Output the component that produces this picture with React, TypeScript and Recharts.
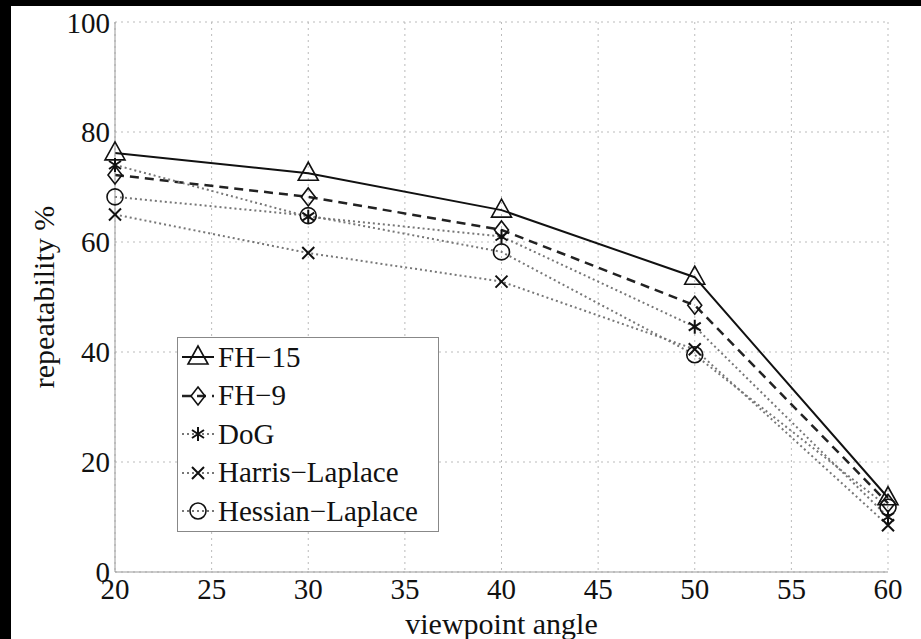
import React from 'react';
import {
  LineChart,
  Line,
  XAxis,
  YAxis,
  CartesianGrid,
  Legend
} from 'recharts';

// viewpoint angles (degrees)
const angles = [20, 30, 40, 50, 60];

// repeatability % per detector
const fh15 = [76.2, 72.5, 65.8, 53.6, 13.5];
const fh9 = [72.2, 68.2, 62.2, 48.5, 12.5];
const dog = [74.0, 64.6, 61.0, 44.6, 10.0];
const harrisLaplace = [65.0, 58.0, 52.8, 40.5, 8.5];
const hessianLaplace = [68.2, 64.8, 58.2, 39.5, 11.8];

const xTicks = [20, 25, 30, 35, 40, 45, 50, 55, 60];
const yTicks = [0, 20, 40, 60, 80, 100];

const data = angles.map((angle, i) => ({
  angle,
  fh15: fh15[i],
  fh9: fh9[i],
  dog: dog[i],
  harris: harrisLaplace[i],
  hessian: hessianLaplace[i]
}));

const FONT = "'Liberation Serif', 'DejaVu Serif', serif";

type MarkerKind = 'triangle' | 'diamond' | 'asterisk' | 'cross' | 'circle';

const Marker = ({ kind, cx, cy }: { kind: MarkerKind; cx: number; cy: number }) => {
  const s = { stroke: '#111', strokeWidth: 1.6, fill: 'none' };
  switch (kind) {
    case 'triangle':
      return (
        <polygon
          {...s}
          points={`${cx},${cy - 11} ${cx - 10},${cy + 7} ${cx + 10},${cy + 7}`}
        />
      );
    case 'diamond':
      return (
        <polygon
          {...s}
          points={`${cx},${cy - 9} ${cx + 7},${cy} ${cx},${cy + 9} ${cx - 7},${cy}`}
        />
      );
    case 'circle':
      return <circle {...s} cx={cx} cy={cy} r={8} />;
    case 'cross':
      return (
        <path
          {...s}
          strokeWidth={2}
          d={`M${cx - 6},${cy - 6}L${cx + 6},${cy + 6}M${cx - 6},${cy + 6}L${cx + 6},${cy - 6}`}
        />
      );
    case 'asterisk':
      return (
        <path
          {...s}
          strokeWidth={2}
          d={`M${cx},${cy - 7}L${cx},${cy + 7}M${cx - 6},${cy - 4}L${cx + 6},${cy + 4}M${cx - 6},${cy + 4}L${cx + 6},${cy - 4}`}
        />
      );
  }
  return null;
};

const series: {
  key: string;
  name: string;
  marker: MarkerKind;
  stroke: string;
  width: number;
  dash?: string;
}[] = [
  { key: 'fh15', name: 'FH\u221215', marker: 'triangle', stroke: '#111', width: 2 },
  { key: 'fh9', name: 'FH\u22129', marker: 'diamond', stroke: '#222', width: 2.5, dash: '9 6' },
  { key: 'dog', name: 'DoG', marker: 'asterisk', stroke: '#777', width: 2, dash: '2 3' },
  { key: 'harris', name: 'Harris\u2212Laplace', marker: 'cross', stroke: '#777', width: 2, dash: '2 3' },
  { key: 'hessian', name: 'Hessian\u2212Laplace', marker: 'circle', stroke: '#777', width: 2, dash: '2 3' }
];

const makeDot = (kind: MarkerKind) => (props: any) => {
  const { cx, cy, index } = props;
  if (cx == null || cy == null) return <g key={index} />;
  return (
    <g key={index}>
      <Marker kind={kind} cx={cx} cy={cy} />
    </g>
  );
};

const LegendBox = () => (
  <div
    style={{
      border: '1.5px solid #888',
      background: '#fff',
      width: 260,
      fontFamily: FONT,
      fontSize: 29,
      color: '#111'
    }}
  >
    {series.map((s) => (
      <div
        key={s.key}
        style={{ display: 'flex', alignItems: 'center', height: 38.5, paddingLeft: 4 }}
      >
        <svg width={36} height={30} style={{ flex: 'none' }}>
          <line
            x1={0}
            x2={32}
            y1={15}
            y2={15}
            stroke={s.stroke}
            strokeWidth={s.width}
            strokeDasharray={s.dash}
          />
          <Marker kind={s.marker} cx={16} cy={15} />
        </svg>
        <span style={{ lineHeight: 1, whiteSpace: 'nowrap' }}>{s.name}</span>
      </div>
    ))}
  </div>
);

const App: React.FC = () => {
  return (
    <div
      style={{
        position: 'absolute',
        left: 0,
        top: 0,
        width: 921,
        height: 639,
        background: '#000',
        fontFamily: FONT
      }}
    >
      <div
        style={{
          position: 'absolute',
          left: 11,
          top: 6,
          width: 910,
          height: 633,
          background: '#fff'
        }}
      >
        <LineChart
          width={910}
          height={633}
          data={data}
          margin={{ top: 16, right: 33, left: 0, bottom: 0 }}
          style={{ fontFamily: FONT }}
        >
          <CartesianGrid stroke="#bbb" strokeDasharray="2 4" />
          <XAxis
            dataKey="angle"
            type="number"
            domain={[20, 60]}
            ticks={xTicks}
            height={67}
            stroke="#999"
            tickLine={false}
            tickSize={4}
            tickMargin={2}
            tick={{ fill: '#111', fontSize: 29, fontFamily: FONT }}
            label={{
              content: ({ viewBox }: any) => (
                <text
                  x={viewBox.x + viewBox.width / 2}
                  y={viewBox.y + 51}
                  textAnchor="middle"
                  dominantBaseline="central"
                  fill="#111"
                  fontSize={30}
                  style={{ fontFamily: FONT }}
                >
                  viewpoint angle
                </text>
              )
            }}
          />
          <YAxis
            type="number"
            domain={[0, 100]}
            ticks={yTicks}
            width={104}
            stroke="#999"
            tickLine={false}
            tickSize={3}
            tickMargin={2}
            tick={{ fill: '#111', fontSize: 29, fontFamily: FONT }}
            label={{
              content: ({ viewBox }: any) => {
                const cy = viewBox.y + viewBox.height / 2;
                return (
                  <text
                    x={32}
                    y={cy}
                    transform={`rotate(-90, 32, ${cy})`}
                    textAnchor="middle"
                    dominantBaseline="central"
                    fill="#111"
                    fontSize={30}
                    style={{ fontFamily: FONT }}
                  >
                    repeatability %
                  </text>
                );
              }
            }}
          />
          <Legend
            layout="vertical"
            align="center"
            verticalAlign="middle"
            content={() => <LegendBox />}
            wrapperStyle={{ left: 166, top: 331, width: 'auto', height: 'auto' }}
          />
          {series.map((s) => (
            <Line
              key={s.key}
              dataKey={s.key}
              name={s.name}
              type="linear"
              stroke={s.stroke}
              strokeWidth={s.width}
              strokeDasharray={s.dash}
              dot={makeDot(s.marker)}
              activeDot={false}
              isAnimationActive={false}
            />
          ))}
        </LineChart>
      </div>
    </div>
  );
};

export default App;
